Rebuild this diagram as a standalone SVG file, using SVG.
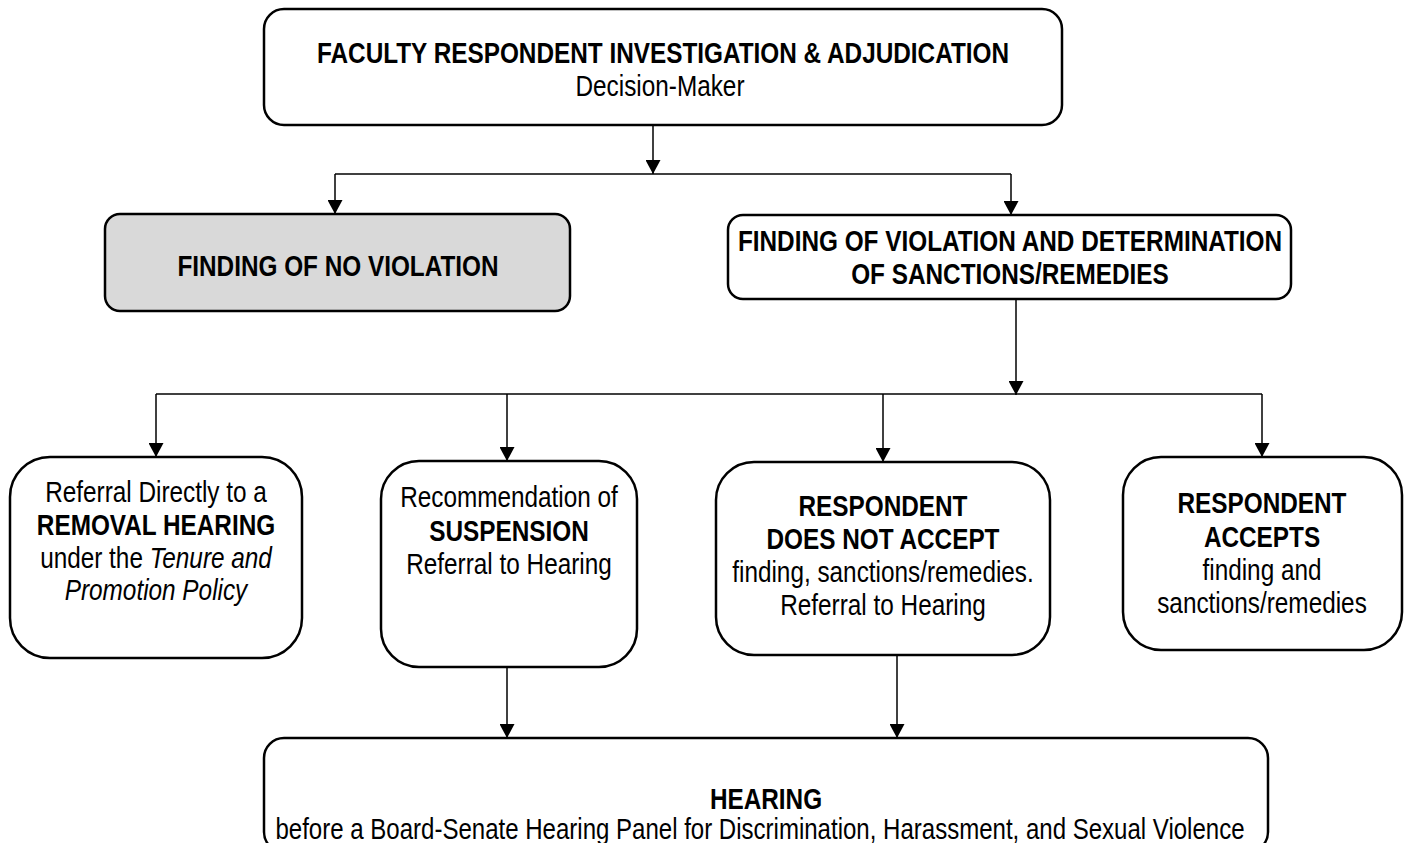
<svg xmlns="http://www.w3.org/2000/svg" width="1408" height="843" viewBox="0 0 1408 843">
<defs>
<style>
.box{fill:#fff;stroke:#000;stroke-width:2.5}
.gray{fill:#d9d9d9}
.con{fill:none;stroke:#000;stroke-width:1.5}
text{font-family:"Liberation Sans",Arial,sans-serif;font-size:29.5px;fill:#000;text-anchor:middle}
.b{font-weight:bold}
.i{font-style:italic}
</style>
<marker id="ah" viewBox="0 0 14 15" refX="14" refY="7.5" markerWidth="14" markerHeight="15" markerUnits="userSpaceOnUse" orient="auto">
<path d="M0,0 L14,7.5 L0,15 z" fill="#000"/>
</marker>
</defs>
<rect width="1408" height="843" fill="#fff"/>
<g id="connectors">
<path class="con" d="M653,125 V174" marker-end="url(#ah)"/>
<path class="con" d="M335,174 H1011"/>
<path class="con" d="M335,174 V214" marker-end="url(#ah)"/>
<path class="con" d="M1011,174 V215" marker-end="url(#ah)"/>
<path class="con" d="M1016,299 V395" marker-end="url(#ah)"/>
<path class="con" d="M156,394 H1262"/>
<path class="con" d="M156,394 V457" marker-end="url(#ah)"/>
<path class="con" d="M507,394 V461" marker-end="url(#ah)"/>
<path class="con" d="M883,394 V462" marker-end="url(#ah)"/>
<path class="con" d="M1262,394 V457" marker-end="url(#ah)"/>
<path class="con" d="M507,667 V738" marker-end="url(#ah)"/>
<path class="con" d="M897,655 V738" marker-end="url(#ah)"/>
</g>
<g id="n-top">
<rect class="box" x="264" y="9" width="798" height="116" rx="20"/>
<text class="b" transform="translate(663 0) scale(0.825 1)" x="0" y="63">FACULTY RESPONDENT INVESTIGATION &amp; ADJUDICATION</text>
<text transform="translate(660 0) scale(0.825 1)" x="0" y="96">Decision-Maker</text>
</g>
<g id="n-noviolation">
<rect class="box gray" x="105" y="214" width="465" height="97" rx="15"/>
<text class="b" transform="translate(338 0) scale(0.825 1)" x="0" y="276">FINDING OF NO VIOLATION</text>
</g>
<g id="n-violation">
<rect class="box" x="728" y="215" width="563" height="84" rx="15"/>
<text class="b" transform="translate(1010 0) scale(0.825 1)" x="0" y="251">FINDING OF VIOLATION AND DETERMINATION</text>
<text class="b" transform="translate(1010 0) scale(0.825 1)" x="0" y="284">OF SANCTIONS/REMEDIES</text>
</g>
<g id="n-removal">
<rect class="box" x="10" y="457" width="292" height="201" rx="40"/>
<text transform="translate(156 0) scale(0.825 1)" x="0" y="502">Referral Directly to a</text>
<text class="b" transform="translate(156 0) scale(0.825 1)" x="0" y="535">REMOVAL HEARING</text>
<text transform="translate(156 0) scale(0.825 1)" x="0" y="568">under the <tspan class="i">Tenure and</tspan></text>
<text class="i" transform="translate(156 0) scale(0.825 1)" x="0" y="600">Promotion Policy</text>
</g>
<g id="n-suspension">
<rect class="box" x="381" y="461" width="256" height="206" rx="38"/>
<text transform="translate(509 0) scale(0.825 1)" x="0" y="507">Recommendation of</text>
<text class="b" transform="translate(509 0) scale(0.825 1)" x="0" y="541">SUSPENSION</text>
<text transform="translate(509 0) scale(0.825 1)" x="0" y="574">Referral to Hearing</text>
</g>
<g id="n-notaccept">
<rect class="box" x="716" y="462" width="334" height="193" rx="38"/>
<text class="b" transform="translate(883 0) scale(0.825 1)" x="0" y="516">RESPONDENT</text>
<text class="b" transform="translate(883 0) scale(0.825 1)" x="0" y="549">DOES NOT ACCEPT</text>
<text transform="translate(883 0) scale(0.825 1)" x="0" y="582">finding, sanctions/remedies.</text>
<text transform="translate(883 0) scale(0.825 1)" x="0" y="615">Referral to Hearing</text>
</g>
<g id="n-accepts">
<rect class="box" x="1123" y="457" width="279" height="193" rx="38"/>
<text class="b" transform="translate(1262 0) scale(0.825 1)" x="0" y="513">RESPONDENT</text>
<text class="b" transform="translate(1262 0) scale(0.825 1)" x="0" y="547">ACCEPTS</text>
<text transform="translate(1262 0) scale(0.825 1)" x="0" y="580">finding and</text>
<text transform="translate(1262 0) scale(0.825 1)" x="0" y="613">sanctions/remedies</text>
</g>
<g id="n-hearing">
<rect class="box" x="264" y="738" width="1004" height="114" rx="20"/>
<text class="b" transform="translate(766 0) scale(0.825 1)" x="0" y="809">HEARING</text>
<text transform="translate(760 0) scale(0.815 1)" x="0" y="839">before a Board-Senate Hearing Panel for Discrimination, Harassment, and Sexual Violence</text>
</g>
</svg>
